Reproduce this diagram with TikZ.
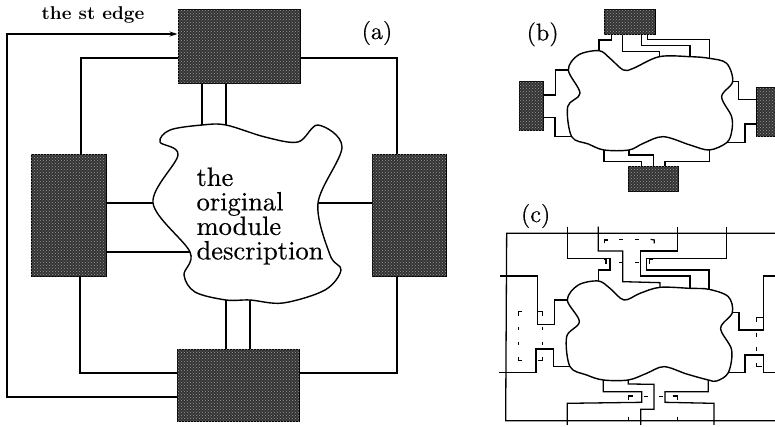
\documentclass[tikz,border=0pt]{standalone}
\usepackage{fontspec}
\usetikzlibrary{patterns,arrows.meta}
\newfontfamily\tenfont[Extension=.otf,FakeBold=0.4]{lmroman10-regular}
\newfontfamily\tenbold[Extension=.otf]{lmroman10-bold}
\tikzset{
  block/.style={draw,line width=1pt,inner sep=0pt,fill=black!80,
    postaction={pattern=crosshatch dots,pattern color=black!40}},
  wire/.style={line width=1.3pt,line join=miter},
  gap/.style={line width=1.2pt},
  panel/.style={font=\fontsize{24}{26}\tenfont,inner sep=0pt},
}
\begin{document}
\begin{tikzpicture}[x=1pt,y=-1pt]
  \clip (0,0) rectangle (775,426);

  % (a)
  \node[block,minimum width=122pt,minimum height=74pt] (atop) at (239,46) {};
  \node[block,minimum width=75pt,minimum height=122pt] (aleft) at (68.5,215) {};
  \node[block,minimum width=74pt,minimum height=122pt] (aright) at (409,215) {};
  \node[block,minimum width=122pt,minimum height=72pt] (abot) at (238,385) {};

  \foreach \n/\p in {1/{202,125},2/{226,125},3/{265,137},4/{298,142},5/{318,125},
      6/{342,147},7/{318,203},8/{330,255},9/{341,270},10/{325,290},11/{283,303},
      12/{250,300},13/{226,300},14/{195,292},15/{184,275},16/{190,252},
      17/{153,203},18/{178,155},19/{160,142},20/{170,130}}
    \coordinate (a\n) at (\p);
  \draw[line width=1.4pt] plot[smooth cycle,tension=.55] coordinates {
    (a1) (a2) (a3) (a4) (a5) (a6) (a7) (a8) (a9) (a10) (a11) (a12) (a13) (a14)
    (a15) (a16) (a17) (a18) (a19) (a20)};

  \draw[wire,-{Stealth[length=8pt,width=5pt]}] (abot.west |- 0,397) -- (7,397) -- (7,34) -- (atop.west |- 0,34);
  \draw[wire] (atop.west |- 0,58) -- (81,58) -- (81,154) -- (aleft.north -| 81,0);
  \draw[wire] (atop.east |- 0,58) -- (397,58) -- (aright.north -| 397,0);
  \draw[wire] (aleft.south -| 80,0) -- (80,373) -- (abot.west |- 0,373);
  \draw[wire] (aright.south -| 397,0) -- (397,373) -- (abot.east |- 0,373);
  \draw[wire] (atop.south -| 202,0) -- (a1);
  \draw[wire] (atop.south -| 226,0) -- (a2);
  \draw[wire] (a13) -- (abot.north -| 226,0);
  \draw[wire] (a12) -- (abot.north -| 250,0);
  \draw[wire] (aleft.east |- a17) -- (a17);
  \draw[wire] (aleft.east |- a16) -- (a16);
  \draw[wire] (a7) -- (aright.west |- a7);

  \node[font=\fontsize{18.5}{22}\tenbold,inner sep=0pt] (stedge) at (93,15) {the st edge};
  \node[panel] (la) at (377,33) {(a)};
  \node[align=left,inner sep=0pt,font=\fontsize{26.5}{24.5}\tenfont] (desc) at (260,216)
    {the\\original\\module\\description};

  % (b)
  \begin{scope}[shift={(500,0)},x=.3333pt,y=-.3333pt]
    \node[block,minimum width=50.7pt,minimum height=25.3pt] (btop) at (389,65) {};
    \node[block,minimum width=24.3pt,minimum height=49pt] (bleft) at (93.5,318.5) {};
    \node[block,minimum width=24.3pt,minimum height=49pt] (bright) at (806.5,336) {};
    \node[block,minimum width=49.7pt,minimum height=25pt] (bbot) at (460.5,537.5) {};

    \foreach \n/\p in {1/{297,152},2/{330,175},3/{370,210},4/{400,205},5/{478,170},
        6/{570,170},7/{628,175},8/{680,190},9/{698,245},10/{665,290},11/{695,350},
        12/{695,395},13/{680,428},14/{628,450},15/{570,435},16/{490,410},17/{430,430},
        18/{387,450},19/{312,450},20/{265,432},21/{215,410},22/{203,320},23/{240,280},
        24/{205,210},25/{235,165}}
      \coordinate (b\n) at (\p);
    \draw[line width=1.4pt] plot[smooth cycle,tension=.55] coordinates {
      (b1) (b2) (b3) (b4) (b5) (b6) (b7) (b8) (b9) (b10) (b11) (b12) (b13) (b14)
      (b15) (b16) (b17) (b18) (b19) (b20) (b21) (b22) (b23) (b24) (b25)};

    \draw[wire] (btop.south -| 335,0) -- (335,120) -- (297,120) -- (b1);
    \draw[wire] (btop.south -| 368,0) -- (368,155) -- (478,155) -- (b5);
    \draw[wire] (btop.south -| 424,0) -- (424,137) -- (570,137) -- (b6);
    \draw[wire] (btop.south -| 442,0) -- (442,118) -- (628,118) -- (b7);
    \draw[wire] (bleft.east |- 0,285) -- (167,285) -- (167,210) -- (b24);
    \draw[wire] (bleft.east |- 0,353) -- (165,353) -- (165,410) -- (b21);
    \draw[wire] (bright.west |- 0,298) -- (716,298) -- (716,245) -- (b9);
    \draw[wire] (bright.west |- 0,372) -- (735,372) -- (735,428) -- (b13);
    \draw[wire] (bbot.north -| 425,0) -- (425,485) -- (312,485) -- (b19);
    \draw[wire] (bbot.north -| 460,0) -- (460,465) -- (387,465) -- (b18);
    \draw[wire] (bbot.north -| 495,0) -- (495,485) -- (628,485) -- (b14);

    \node[panel] (lb) at (128,103) {(b)};
  \end{scope}

  % (c)
  \begin{scope}[shift={(490,200)},x=.3333pt,y=-.3333pt]
    \foreach \n/\p in {1/{325,243},2/{360,265},3/{402,300},4/{450,280},5/{510,262},
        6/{600,265},7/{657,268},8/{715,290},9/{727,338},10/{692,385},11/{725,450},
        12/{715,518},13/{680,543},14/{655,540},15/{590,522},16/{522,500},17/{470,520},
        18/{415,540},19/{340,540},20/{290,525},21/{240,500},22/{230,410},23/{268,365},
        24/{232,300},25/{265,255}}
      \coordinate (c\n) at (\p);
    \draw[line width=1.4pt] plot[smooth cycle,tension=.55] coordinates {
      (c1) (c2) (c3) (c4) (c5) (c6) (c7) (c8) (c9) (c10) (c11) (c12) (c13) (c14)
      (c15) (c16) (c17) (c18) (c19) (c20) (c21) (c22) (c23) (c24) (c25)};

    % outer frame
    \draw[wire] (855,100) -- (50,100) -- (47,662) -- (855,662);
    % top
    \draw[wire] (232,80) -- (232,175) -- (360,175) -- (360,210) -- (325,210) -- (c1);
    \draw[wire] (325,80) -- (325,153) -- (398,153) -- (398,245) -- (510,248) -- (c5);
    \draw[wire] (562,80) -- (562,153) -- (452,153) -- (452,228) -- (600,228) -- (c6);
    \draw[wire] (710,80) -- (710,175) -- (470,175) -- (470,210) -- (657,210) -- (c7);
    % left
    \draw[wire] (30,228) -- (142,228) -- (142,373) -- (193,373) -- (193,300) -- (c24);
    \draw[wire] (27,518) -- (138,518) -- (138,447) -- (190,447) -- (190,500) -- (c21);
    % right
    \draw[wire] (855,228) -- (820,228) -- (820,390) -- (747,390) -- (747,338) -- (c9);
    \draw[wire] (855,518) -- (820,518) -- (820,465) -- (765,465) -- (765,518) -- (c12);
    % bottom
    \draw[wire] (c19) -- (340,575) -- (455,575) -- (455,607) -- (232,610) -- (232,675);
    \draw[wire] (c18) -- (415,552) -- (492,553) -- (492,628) -- (452,628) -- (452,675);
    \draw[wire] (c14) -- (655,575) -- (525,575) -- (525,607) -- (672,610) -- (672,675);

    % cut marks
    \foreach \a/\b/\c in {{343,130}/{343,120}/{355,120},{482,118}/{493,120}/{493,130},
        {342,178}/{348,178}/{348,192},{490,178}/{478,178}/{478,192},
        {85,347}/{85,335}/{97,335},{85,470}/{85,482}/{97,482},
        {145,335}/{157,335}/{157,347},{145,482}/{157,482}/{157,470},
        {800,365}/{800,352}/{820,352},{800,490}/{800,500}/{815,500},
        {415,600}/{415,588}/{428,588},{550,588}/{562,588}/{562,600}}
      \draw[gap] (\a) -- (\b) -- (\c);
    \foreach \a/\b in {{388,118}/{400,118},{435,118}/{447,118},
        {388,188}/{400,188},{435,188}/{447,188},
        {85,380}/{85,390},{85,425}/{85,435},{157,380}/{157,390},{157,425}/{157,435},
        {800,398}/{800,410},{800,442}/{800,452},
        {462,590}/{475,590},{508,590}/{520,590},
        {415,650}/{415,662},{562,650}/{562,662}}
      \draw[gap] (\a) -- (\b);

    \node[panel] (lc) at (137,48) {(c)};
  \end{scope}
\end{tikzpicture}
\end{document}
